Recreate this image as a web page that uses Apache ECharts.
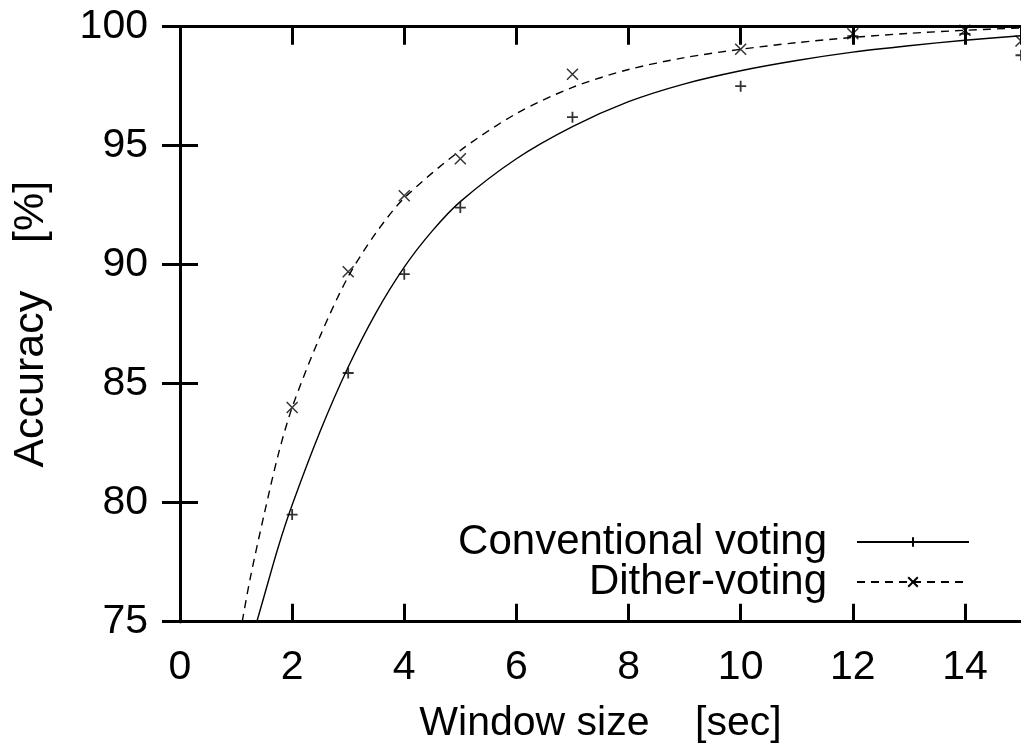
<!DOCTYPE html>
<html><head><meta charset="utf-8">
<script src="https://cdn.jsdelivr.net/npm/echarts@6/dist/echarts.min.js"></script>
<style>html,body{margin:0;padding:0;background:#fff}#c{width:1021px;height:753px}</style>
</head><body><div id="c"></div>
<script>
// Measured data points
const convPoints = [[2,79.5],[3,85.45],[4,89.6],[5,92.4],[7,96.2],[10,97.5],[12,99.6],[14,99.7],[15,98.8]];
const ditherPoints = [[2,84.0],[3,89.7],[4,92.9],[5,94.45],[7,98.0],[10,99.05],[12,99.7],[14,99.85],[15,99.4]];
// Fitted curves
const convFit = [[1.37,75.0],[1.5,76.07],[1.75,78.12],[2.0,79.9],[2.5,83.0],[3.0,85.7],[3.5,88.0],[4.0,89.9],[4.5,91.42],[5.0,92.65],[6.0,94.45],[7.0,95.8],[8.0,96.85],[9.0,97.6],[10.0,98.15],[11.0,98.58],[12.0,98.93],[13.0,99.2],[14.0,99.43],[15.0,99.62]];
const ditherFit = [[1.11,75.0],[1.25,76.8],[1.5,79.5],[1.75,82.0],[2.0,84.0],[2.5,87.0],[3.0,89.5],[3.5,91.35],[4.0,92.8],[5.0,94.8],[6.0,96.35],[7.0,97.45],[8.0,98.2],[9.0,98.7],[10.0,99.05],[11.0,99.33],[12.0,99.55],[13.0,99.72],[14.0,99.85],[15.0,99.95]];
const seriesNames = ['Conventional voting','Dither-voting'];
const xName = 'Window size    [sec]';
const yName = 'Accuracy    [%]';

const FONT = 'Liberation Sans, Arial, sans-serif';
const PLUS = 'path://M0,5L10,5M5,0L5,10';
const CROSS = 'path://M0,0L10,10M10,0L0,10';
const frame = {lineStyle:{color:'#000',width:3}};
const tick = {inside:true,length:18,lineStyle:{color:'#000',width:3}};

const chart = echarts.init(document.getElementById('c'), null, {renderer:'canvas'});
chart.setOption({
  animation:false,
  backgroundColor:'#fff',
  grid:{left:180,top:26.7,right:-2.75,bottom:131.3,containLabel:false},
  xAxis:[
    {type:'value',min:0,max:15,interval:2,position:'bottom',
     axisLine:frame,axisTick:tick,splitLine:{show:false},
     axisLabel:{fontSize:41,color:'#000',fontFamily:FONT,margin:25,showMaxLabel:false},
     name:xName,nameLocation:'middle',nameGap:81,
     nameTextStyle:{fontSize:41,color:'#000',fontFamily:FONT}},
    {type:'value',min:0,max:15,interval:2,position:'top',
     axisLine:frame,axisTick:tick,splitLine:{show:false},axisLabel:{show:false}}
  ],
  yAxis:[
    {type:'value',min:75,max:100,interval:5,position:'left',
     axisLine:frame,axisTick:tick,splitLine:{show:false},
     axisLabel:{fontSize:41,color:'#000',fontFamily:FONT,margin:32},
     name:yName,nameLocation:'middle',nameGap:127,
     nameTextStyle:{fontSize:43,color:'#000',fontFamily:FONT}},
    {type:'value',min:75,max:100,interval:5,position:'right',
     axisLine:frame,axisTick:tick,splitLine:{show:false},axisLabel:{show:false}}
  ],
  legend:[
    {data:[seriesNames[0]],orient:'vertical',align:'right',right:51,top:521,padding:0,
     itemWidth:112,itemHeight:12,
     textStyle:{fontSize:42,color:'#000',fontFamily:FONT,padding:[0,25,0,0]}},
    {data:[seriesNames[1]],orient:'vertical',align:'right',right:51,top:561,padding:0,
     itemWidth:112,itemHeight:12,
     textStyle:{fontSize:42,color:'#000',fontFamily:FONT,padding:[0,25,0,0]}}
  ],
  series:[
    {type:'line',name:seriesNames[0],data:convFit,smooth:0.3,
     symbol:PLUS,symbolSize:10,showSymbol:false,
     lineStyle:{color:'#000',width:1.4},
     itemStyle:{color:'#000',borderColor:'#000',borderWidth:1.3}},
    {type:'line',name:seriesNames[1],data:ditherFit,smooth:0.3,
     symbol:CROSS,symbolSize:10,showSymbol:false,
     lineStyle:{color:'#000',width:1.4,type:[8,6]},
     itemStyle:{color:'#000',borderColor:'#000',borderWidth:1.3}},
    {type:'scatter',name:'conv-points',data:convPoints,symbol:PLUS,symbolSize:11,
     itemStyle:{color:'#000',borderColor:'#000',borderWidth:1.8}},
    {type:'scatter',name:'dither-points',data:ditherPoints,symbol:CROSS,symbolSize:11,
     itemStyle:{color:'#000',borderColor:'#000',borderWidth:1.5}}
  ]
});
</script></body></html>
